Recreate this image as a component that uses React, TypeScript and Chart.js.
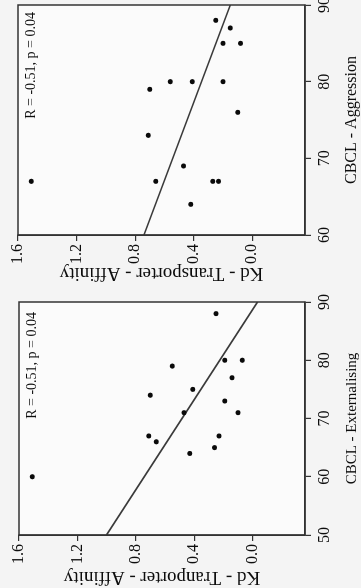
import React, { useEffect, useRef } from "react";
import { Chart, registerables } from "chart.js";

Chart.register(...registerables);

// ---- data ----
const aggressionCbcl = [88, 87, 85, 85, 80, 80, 80, 79, 76, 73, 69, 67, 67, 67, 64, 67];
const aggressionKd = [0.25, 0.15, 0.2, 0.08, 0.56, 0.41, 0.2, 0.7, 0.1, 0.71, 0.47, 0.66, 0.27, 0.23, 0.42, 1.51];
const aggressionFitCbcl = [60, 90];
const aggressionFitKd = [0.74, 0.15];
const aggressionTicks = [60, 70, 80, 90];

const externalisingCbcl = [88, 79, 80, 80, 77, 74, 75, 73, 71, 71, 67, 66, 67, 65, 64, 60];
const externalisingKd = [0.25, 0.55, 0.19, 0.07, 0.14, 0.7, 0.41, 0.19, 0.47, 0.1, 0.71, 0.66, 0.23, 0.26, 0.43, 1.51];
const externalisingFitCbcl = [50, 90];
const externalisingFitKd = [1.0, -0.035];
const externalisingTicks = [50, 60, 70, 80, 90];

const kdTicks = [0, 0.4, 0.8, 1.2, 1.6];
const kdMin = -0.36;
const kdMax = 1.6;

const FONT = "'Liberation Serif', 'Times New Roman', serif";
const INK = "#0d0d0d";
const FRAME = "#333333";

type PanelSpec = {
  cbcl: number[];
  kd: number[];
  fitCbcl: number[];
  fitKd: number[];
  xTicks: number[];
  xTitle: string;
  yTitle: string;
  note: string;
  xTitleSize: number;
  yTitlePad: number;
  yAxisWidth: number;
  padTop: number;
  padRight: number;
  noteInset: number;
};

function makeConfig(p: PanelSpec): any {
  const points = p.cbcl.map((x, i) => ({ x, y: p.kd[i] }));
  const fit = p.fitCbcl.map((x, i) => ({ x, y: p.fitKd[i] }));
  const framePlugin = {
    id: "frame",
    beforeDraw(chart: any) {
      const { ctx, chartArea: a } = chart;
      ctx.save();
      ctx.fillStyle = "#fbfbfb";
      ctx.fillRect(a.left, a.top, a.right - a.left, a.bottom - a.top);
      ctx.restore();
    },
    afterDraw(chart: any) {
      const { ctx, chartArea: a } = chart;
      ctx.save();
      ctx.strokeStyle = FRAME;
      ctx.lineWidth = 1.5;
      ctx.strokeRect(a.left, a.top, a.right - a.left, a.bottom - a.top);
      ctx.font = `14px ${FONT}`;
      ctx.fillStyle = INK;
      ctx.textAlign = "right";
      ctx.textBaseline = "middle";
      ctx.fillText(p.note, a.right - p.noteInset, a.top + 13);
      ctx.restore();
    },
  };
  return {
    type: "scatter",
    data: {
      datasets: [
        {
          data: points,
          pointRadius: 2.5,
          pointBackgroundColor: "#0a0a0a",
          pointBorderColor: "#0a0a0a",
          pointBorderWidth: 0,
        },
        {
          data: fit,
          showLine: true,
          borderColor: "#3a3a3a",
          borderWidth: 1.7,
          pointRadius: 0,
        },
      ],
    },
    options: {
      animation: false,
      responsive: false,
      maintainAspectRatio: false,
      layout: { padding: { top: p.padTop, right: p.padRight, left: 0, bottom: 0 } },
      plugins: { legend: { display: false }, tooltip: { enabled: false } },
      scales: {
        x: {
          type: "linear",
          position: "bottom",
          min: p.xTicks[0],
          max: p.xTicks[p.xTicks.length - 1],
          afterBuildTicks(scale: any) {
            scale.ticks = p.xTicks.map((v) => ({ value: v }));
          },
          afterFit(scale: any) {
            scale.height = 56;
            scale.paddingLeft = 0;
            scale.paddingRight = 0;
          },
          ticks: {
            maxRotation: 0,
            padding: 4,
            color: INK,
            font: { family: FONT, size: 16 },
          },
          grid: { drawOnChartArea: false, drawTicks: true, tickLength: 6, color: FRAME, lineWidth: 1.2 },
          border: { display: true, color: FRAME, width: 1.5 },
          title: {
            display: true,
            text: p.xTitle,
            color: INK,
            font: { family: FONT, size: p.xTitleSize },
            padding: { top: 0, bottom: 0 },
          },
        },
        y: {
          type: "linear",
          position: "left",
          min: kdMin,
          max: kdMax,
          afterBuildTicks(scale: any) {
            scale.ticks = kdTicks.map((v) => ({ value: v }));
          },
          afterFit(scale: any) {
            scale.width = p.yAxisWidth;
            scale.paddingTop = 0;
            scale.paddingBottom = 0;
          },
          ticks: {
            padding: 3,
            color: INK,
            font: { family: FONT, size: 16 },
            callback: (v: any) => Number(v).toFixed(1),
          },
          grid: { drawOnChartArea: false, drawTicks: true, tickLength: 6, color: FRAME, lineWidth: 1.2 },
          border: { display: true, color: FRAME, width: 1.5 },
          title: {
            display: true,
            text: p.yTitle,
            color: INK,
            font: { family: FONT, size: 19 },
            padding: { top: p.yTitlePad, bottom: 0 },
          },
        },
      },
    },
    plugins: [framePlugin],
  };
}

function RotatedPanel({ w, h, top, spec }: { w: number; h: number; top: number; spec: PanelSpec }) {
  const ref = useRef<HTMLCanvasElement>(null);
  useEffect(() => {
    const chart = new Chart(ref.current!, makeConfig(spec));
    return () => chart.destroy();
  }, []);
  return (
    <div
      style={{
        position: "absolute",
        left: 0,
        top,
        width: w,
        height: h,
        transformOrigin: "0 0",
        transform: `translateY(${w}px) rotate(-90deg)`,
      }}
    >
      <canvas ref={ref} width={w} height={h} style={{ width: w, height: h, display: "block" }} />
    </div>
  );
}

const aggressionSpec: PanelSpec = {
  cbcl: aggressionCbcl,
  kd: aggressionKd,
  fitCbcl: aggressionFitCbcl,
  fitKd: aggressionFitKd,
  xTicks: aggressionTicks,
  xTitle: "CBCL - Aggression",
  yTitle: "Kd - Transporter - Affinity",
  note: "R = -0.51, p = 0.04",
  xTitleSize: 16,
  yTitlePad: 6,
  yAxisWidth: 55,
  padTop: 18,
  padRight: 5,
  noteInset: 7,
};

const externalisingSpec: PanelSpec = {
  cbcl: externalisingCbcl,
  kd: externalisingKd,
  fitCbcl: externalisingFitCbcl,
  fitKd: externalisingFitKd,
  xTicks: externalisingTicks,
  xTitle: "CBCL - Externalising",
  yTitle: "Kd - Tranporter - Affinity",
  note: "R = -0.51, p = 0.04",
  xTitleSize: 15,
  yTitlePad: 0,
  yAxisWidth: 53,
  padTop: 19,
  padRight: 12,
  noteInset: 10,
};

export default function App() {
  return (
    <div
      style={{
        position: "fixed",
        left: 0,
        top: 0,
        width: 361,
        height: 588,
        background: "#f4f4f4",
        overflow: "hidden",
      }}
    >
      <RotatedPanel w={290} h={361} top={0} spec={aggressionSpec} />
      <RotatedPanel w={298} h={361} top={290} spec={externalisingSpec} />
    </div>
  );
}
